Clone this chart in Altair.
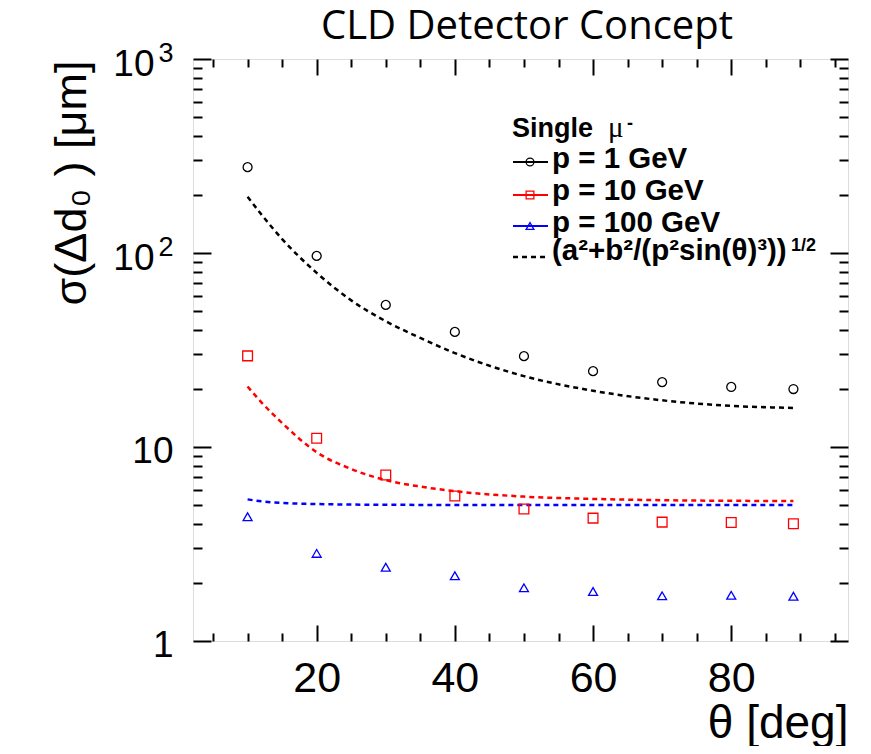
import altair as alt
import pandas as pd

# ---------------- data ----------------
theta_pts = [10, 20, 30, 40, 50, 60, 70, 80, 89]
sigma_p1 = [277, 96.6, 54.0, 39.2, 29.4, 24.6, 21.6, 20.4, 19.9]
sigma_p10 = [29.5, 11.1, 7.17, 5.59, 4.79, 4.30, 4.10, 4.08, 4.02]
sigma_p100 = [4.37, 2.83, 2.40, 2.17, 1.88, 1.80, 1.71, 1.72, 1.70]

theta_fit = [10, 12, 15, 20, 25, 30, 35, 40, 50, 60, 70, 80, 89]
fit_p1 = [195, 158, 118, 79, 57, 44.5, 36.5, 30.5, 23.2, 19.5, 17.4, 16.3, 15.9]
fit_p10 = [20.5, 17.0, 13.3, 9.4, 7.7, 6.75, 6.25, 5.92, 5.55, 5.40, 5.32, 5.28, 5.27]
fit_p100 = [5.37, 5.25, 5.15, 5.08, 5.05, 5.04, 5.03, 5.03, 5.02, 5.02, 5.02, 5.02, 5.02]

series_labels = ["p = 1 GeV", "p = 10 GeV", "p = 100 GeV"]
series_colors = ["#000000", "#ff0000", "#0000ff"]
series_shapes = ["circle", "square", "triangle-up"]
fit_label = "(a²+b²/(p²sin(θ)³))"
fit_exponent = "1/2"
legend_header = "Single"
title_text = "CLD Detector Concept"
x_title = "θ [deg]"
y_title = "σ(Δd₀ ) [μm]"

x_domain = [2.1, 96.9]
y_domain = [1, 1000]
x_major = [20, 40, 60, 80]
x_minor = [5, 10, 15, 25, 30, 35, 45, 50, 55, 65, 70, 75, 85, 90, 95]
y_major = [1, 10, 100, 1000]
y_minor = [2, 3, 4, 5, 6, 7, 8, 9, 20, 30, 40, 50, 60, 70, 80, 90,
           200, 300, 400, 500, 600, 700, 800, 900]

# ---------------- layout ----------------
W, H = 655, 582
FONT = "Liberation Sans"

xs = alt.Scale(domain=x_domain, nice=False, zero=False)
ys = alt.Scale(type="log", domain=y_domain, nice=False)


def ax(**kw):
    base = dict(grid=False, domain=False, labels=False, ticks=False, title=None,
                labelFlush=False, labelOverlap=False, labelColor="black",
                labelFont=FONT, tickColor="black", tickWidth=2)
    base.update(kw)
    return alt.Axis(**base)


x_lab = ax(orient="bottom", values=x_major, labels=True, labelFontSize=43,
           labelPadding=16, title=x_title, titleFont=FONT, titleFontSize=46,
           titleFontWeight="normal", titleColor="black", titleAlign="right",
           titleAnchor="end", titleBaseline="alphabetic", titleX=W, titleY=96)
x_maj_b = ax(orient="bottom", values=x_major, ticks=True, tickSize=16, offset=-16)
x_min_b = ax(orient="bottom", values=x_minor, ticks=True, tickSize=8, offset=-8)
x_maj_t = ax(orient="top", values=x_major, ticks=True, tickSize=16, offset=-16)
x_min_t = ax(orient="top", values=x_minor, ticks=True, tickSize=8, offset=-8)

y_lab10 = ax(orient="left", values=[100, 1000], labels=True, labelExpr="'10'",
             labelFontSize=37, labelPadding=39, labelOffset=5,
             title=y_title, titleFont=FONT, titleFontSize=45,
             titleFontWeight="normal", titleColor="black", titleAngle=270,
             titleAlign="right", titleBaseline="alphabetic", titleX=-108, titleY=1)
y_lab1 = ax(orient="left", values=[1, 10], labels=True,
            labelExpr="datum.value < 5 ? '1' : '10'", labelFontSize=37,
            labelPadding=20, labelOffset=4)
y_exp = ax(orient="left", values=[100, 1000], labels=True,
           labelExpr="datum.value > 500 ? '3' : '2'", labelFontSize=27,
           labelPadding=20, labelOffset=-6)
y_maj_l = ax(orient="left", values=y_major, ticks=True, tickSize=18, offset=-18)
y_min_l = ax(orient="left", values=y_minor, ticks=True, tickSize=9, offset=-9)
y_maj_r = ax(orient="right", values=y_major, ticks=True, tickSize=18, offset=-18)
y_min_r = ax(orient="right", values=y_minor, ticks=True, tickSize=9, offset=-9)


def curve(vals, color, xaxis, yaxis):
    df = pd.DataFrame({"theta": theta_fit, "sigma": vals})
    return alt.Chart(df).mark_line(color=color, strokeWidth=2.5, strokeDash=[5, 4],
                                   interpolate="monotone").encode(
        x=alt.X("theta:Q", scale=xs, axis=xaxis),
        y=alt.Y("sigma:Q", scale=ys, axis=yaxis))


def points(vals, shape, color, size, xaxis, yaxis, opacity=1):
    df = pd.DataFrame({"theta": theta_pts, "sigma": vals})
    return alt.Chart(df).mark_point(shape=shape, filled=False, size=size, strokeWidth=1.3,
                                    color=color, opacity=opacity).encode(
        x=alt.X("theta:Q", scale=xs, axis=xaxis),
        y=alt.Y("sigma:Q", scale=ys, axis=yaxis))


def text_layer(txt, x, y, size, weight="bold", font=FONT, align="left"):
    return alt.Chart(pd.DataFrame({"t": [txt]})).mark_text(
        align=align, baseline="alphabetic", fontSize=size, fontWeight=weight,
        font=font, color="black").encode(x=alt.value(x), y=alt.value(y), text="t:N")


layers = [
    curve(fit_p1, series_colors[0], x_maj_t, y_maj_l),
    curve(fit_p10, series_colors[1], x_min_t, y_min_l),
    curve(fit_p100, series_colors[2], None, y_maj_r),
    points(sigma_p1, series_shapes[0], series_colors[0], 80, x_lab, y_lab10),
    points(sigma_p10, series_shapes[1], series_colors[1], 95, x_maj_b, y_lab1),
    points(sigma_p100, series_shapes[2], series_colors[2], 80, x_min_b, y_exp),
    points(sigma_p100, series_shapes[2], series_colors[2], 80, None, y_min_r, opacity=0),
]

# ---------------- title ----------------
layers.append(text_layer(title_text, 334, -20, 40, weight="normal", font="Open Sans", align="center"))

# ---------------- legend ----------------
one = alt.Data(values=[{"k": 1}])
layers.append(text_layer(legend_header, 319, 78, 27))
layers.append(text_layer("μ", 415, 78, 29, weight="normal", font="Liberation Serif"))
layers.append(text_layer("-", 434, 70, 18))
row_base = [109, 141, 173]
row_line = [103, 136, 167]
for lab, col, shp, yb, yl in zip(series_labels, series_colors, series_shapes, row_base, row_line):
    layers.append(alt.Chart(one).mark_rule(color=col, strokeWidth=2).encode(
        x=alt.value(320), x2=alt.value(355), y=alt.value(yl)))
    layers.append(alt.Chart(one).mark_point(shape=shp, filled=False, size=60,
                                            strokeWidth=1.3, color=col, opacity=1).encode(
        x=alt.value(337), y=alt.value(yl)))
    layers.append(text_layer(lab, 359, yb, 29.5))
layers.append(alt.Chart(one).mark_rule(color="black", strokeWidth=2.5, strokeDash=[5, 4]).encode(
    x=alt.value(320), x2=alt.value(355), y=alt.value(198)))
layers.append(text_layer(fit_label, 359, 201, 29.5))
layers.append(text_layer(fit_exponent, 598, 192, 18))

chart = alt.layer(*layers).resolve_axis(x="independent", y="independent").properties(
    width=W, height=H,
    autosize=alt.AutoSizeParams(type="none"),
    padding={"left": 185, "top": 51, "right": 10, "bottom": 105},
).configure_view(stroke="black", strokeWidth=2).configure(background="white")

chart.save("out.html", embed_options={"renderer": "svg", "actions": False})
